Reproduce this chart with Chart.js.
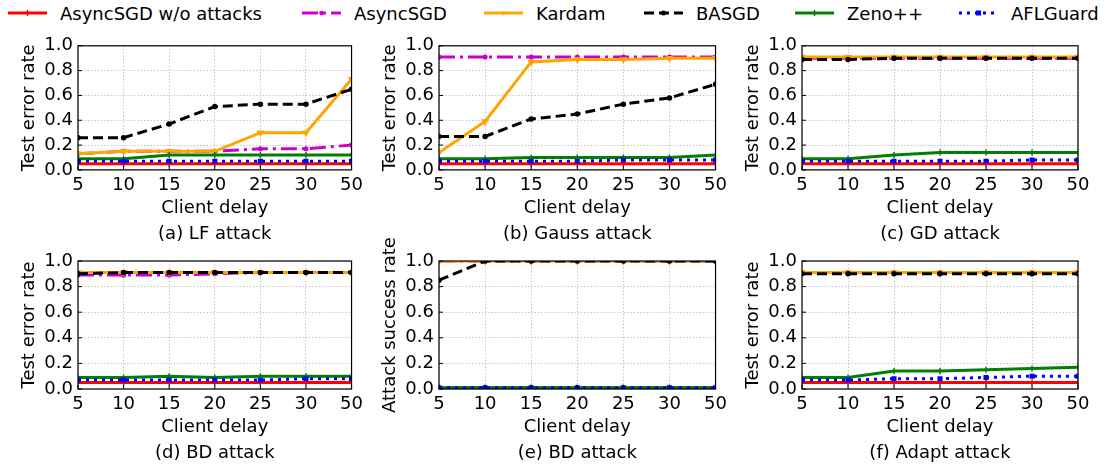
<!DOCTYPE html>
<html>
<head>
<meta charset="utf-8">
<script src="https://cdn.jsdelivr.net/npm/chart.js@4.4.1/dist/chart.umd.min.js"></script>
<style>
  body { margin: 0; background: #fff; width: 1106px; height: 467px; position: relative; overflow: hidden; font-family: 'DejaVu Sans', sans-serif; }
  canvas { position: absolute; }
  .leg { position: absolute; top: 0; height: 26px; display: flex; align-items: center; font-size: 18px; white-space: nowrap; color: #000; }
  .leg span { margin-left: 13px; }
</style>
</head>
<body>
<script>
const delays = ['5', '10', '15', '20', '25', '30', '50'];
const methods = ['AsyncSGD w/o attacks', 'AsyncSGD', 'Kardam', 'BASGD', 'Zeno++', 'AFLGuard'];
const yTicks = [0, 0.2, 0.4, 0.6, 0.8, 1.0];

// one row per method, same order as `methods`
const lfAttack = [
  [0.05, 0.05, 0.05, 0.05, 0.05, 0.05, 0.05],
  [0.13, 0.15, 0.15, 0.15, 0.17, 0.17, 0.20],
  [0.13, 0.15, 0.15, 0.15, 0.30, 0.30, 0.73],
  [0.26, 0.26, 0.37, 0.51, 0.53, 0.53, 0.65],
  [0.09, 0.09, 0.12, 0.12, 0.12, 0.12, 0.12],
  [0.07, 0.07, 0.07, 0.07, 0.07, 0.07, 0.07]
];
const gaussAttack = [
  [0.05, 0.05, 0.05, 0.05, 0.05, 0.05, 0.05],
  [0.91, 0.91, 0.91, 0.91, 0.91, 0.91, 0.91],
  [0.14, 0.39, 0.87, 0.89, 0.89, 0.90, 0.90],
  [0.27, 0.27, 0.41, 0.45, 0.53, 0.58, 0.69],
  [0.09, 0.09, 0.10, 0.10, 0.10, 0.10, 0.12],
  [0.07, 0.07, 0.07, 0.07, 0.08, 0.08, 0.08]
];
const gdAttack = [
  [0.05, 0.05, 0.05, 0.05, 0.05, 0.05, 0.05],
  [0.90, 0.90, 0.90, 0.90, 0.90, 0.90, 0.90],
  [0.91, 0.91, 0.91, 0.91, 0.91, 0.91, 0.91],
  [0.89, 0.89, 0.90, 0.90, 0.90, 0.90, 0.90],
  [0.09, 0.09, 0.12, 0.14, 0.14, 0.14, 0.14],
  [0.07, 0.07, 0.07, 0.07, 0.07, 0.08, 0.08]
];
const bdError = [
  [0.05, 0.05, 0.05, 0.05, 0.05, 0.05, 0.05],
  [0.89, 0.89, 0.89, 0.90, 0.91, 0.91, 0.91],
  [0.91, 0.91, 0.91, 0.91, 0.91, 0.91, 0.91],
  [0.90, 0.91, 0.91, 0.91, 0.91, 0.91, 0.91],
  [0.09, 0.09, 0.10, 0.09, 0.10, 0.10, 0.10],
  [0.07, 0.07, 0.07, 0.07, 0.07, 0.08, 0.08]
];
const bdSuccess = [
  [0.01, 0.01, 0.01, 0.01, 0.01, 0.01, 0.01],
  [1.00, 1.00, 1.00, 1.00, 1.00, 1.00, 1.00],
  [1.00, 1.00, 1.00, 1.00, 1.00, 1.00, 1.00],
  [0.85, 1.00, 1.00, 1.00, 1.00, 1.00, 1.00],
  [0.01, 0.01, 0.01, 0.01, 0.01, 0.01, 0.01],
  [0.01, 0.01, 0.01, 0.01, 0.01, 0.01, 0.01]
];
const adaptAttack = [
  [0.05, 0.05, 0.05, 0.05, 0.05, 0.05, 0.05],
  [0.91, 0.91, 0.91, 0.91, 0.91, 0.91, 0.91],
  [0.91, 0.91, 0.91, 0.91, 0.91, 0.91, 0.91],
  [0.90, 0.90, 0.90, 0.90, 0.90, 0.90, 0.90],
  [0.09, 0.09, 0.14, 0.14, 0.15, 0.16, 0.17],
  [0.07, 0.07, 0.08, 0.08, 0.09, 0.10, 0.10]
];

const panels = [
  { rows: lfAttack,    yTitle: 'Test error rate',     title: '(a) LF attack',    col: 0, row: 0 },
  { rows: gaussAttack, yTitle: 'Test error rate',     title: '(b) Gauss attack', col: 1, row: 0 },
  { rows: gdAttack,    yTitle: 'Test error rate',     title: '(c) GD attack',    col: 2, row: 0 },
  { rows: bdError,     yTitle: 'Test error rate',     title: '(d) BD attack',    col: 0, row: 1 },
  { rows: bdSuccess,   yTitle: 'Attack success rate', title: '(e) BD attack',    col: 1, row: 1 },
  { rows: adaptAttack, yTitle: 'Test error rate',     title: '(f) Adapt attack', col: 2, row: 1 }
];

const styles = [
  { color: '#ff0000', dash: [],           point: 'cross',    r: 3,   rot: 0 },
  { color: '#cc00cc', dash: [16, 5, 3, 5], point: 'circle',  r: 1.8, rot: 0 },
  { color: '#ffa500', dash: [],           point: 'triangle', r: 3,   rot: 180 },
  { color: '#000000', dash: [10, 5],      point: 'circle',   r: 2,   rot: 0 },
  { color: '#008000', dash: [],           point: 'cross',    r: 3,   rot: 0 },
  { color: '#0000ff', dash: [3, 5],       point: 'rect',     r: 2.5, rot: 0 }
];

// layout (page pixels)
const cols = [
  { cx: 0,   w: 368, pl: 78,  pr: 354 },
  { cx: 370, w: 362, pl: 439, pr: 717 },
  { cx: 736, w: 370, pl: 802, pr: 1078 }
];
const rowsGeom = [
  { cy: 30,  h: 215, pt: 44,  pb: 170 },
  { cy: 228, h: 239, pt: 261, pb: 389 }
];
const legendX = [8, 302, 484, 644, 795, 959];
const Y_W = 60, X_H = 50, TITLE_PAD = 3.5, FS = 18;
const TITLE_H = FS * 1.2 + TITLE_PAD;

Chart.defaults.font.family = "'DejaVu Sans', sans-serif";
Chart.defaults.font.size = FS;
Chart.defaults.color = '#000';

// legend
methods.forEach((m, i) => {
  const s = styles[i];
  const div = document.createElement('div');
  div.className = 'leg';
  div.style.left = legendX[i] + 'px';
  let mark = '';
  if (s.point === 'cross') mark = `<path d="M19.5 10v6M16.5 13h6" stroke="${s.color}" stroke-width="1.5"/>`;
  else if (s.point === 'rect') mark = `<rect x="17" y="10.5" width="5" height="5" fill="${s.color}"/>`;
  else if (s.point === 'triangle') mark = `<path d="M17 11.5h5l-2.5 4z" fill="${s.color}"/>`;
  else mark = `<circle cx="19.5" cy="13" r="${s.r + 0.5}" fill="${s.color}"/>`;
  div.innerHTML = `<svg width="39" height="26"><line x1="0" y1="13" x2="39" y2="13" stroke="${s.color}" stroke-width="3" stroke-dasharray="${s.dash.join(' ') || 'none'}"/>${mark}</svg><span>${m}</span>`;
  document.body.appendChild(div);
});

const framePlugin = {
  id: 'frame',
  afterDatasetsDraw(chart) {
    const { ctx, chartArea: a, scales: { x, y } } = chart;
    ctx.save();
    ctx.strokeStyle = '#000';
    ctx.lineWidth = 1;
    ctx.beginPath();
    x.ticks.forEach((t, i) => {
      const px = x.getPixelForTick(i);
      ctx.moveTo(px, a.bottom); ctx.lineTo(px, a.bottom - 4);
    });
    y.ticks.forEach((t, i) => {
      const py = y.getPixelForTick(i);
      ctx.moveTo(a.left, py); ctx.lineTo(a.left + 4, py);
    });
    ctx.stroke();
    ctx.lineWidth = 1.2;
    ctx.strokeRect(a.left, a.top, a.width, a.height);
    ctx.restore();
  }
};

panels.forEach(p => {
  const c = cols[p.col], r = rowsGeom[p.row];
  const canvas = document.createElement('canvas');
  canvas.width = c.w;
  canvas.height = r.h;
  canvas.style.left = c.cx + 'px';
  canvas.style.top = r.cy + 'px';
  document.body.appendChild(canvas);

  new Chart(canvas, {
    type: 'line',
    data: {
      labels: delays,
      datasets: p.rows.map((vals, i) => ({
        label: methods[i],
        data: vals,
        borderColor: styles[i].color,
        backgroundColor: styles[i].color,
        borderWidth: 3,
        borderDash: styles[i].dash,
        tension: 0,
        fill: false,
        pointStyle: styles[i].point,
        pointRadius: styles[i].r,
        pointRotation: styles[i].rot,
        pointBorderWidth: 1.5,
        pointBackgroundColor: styles[i].color,
        pointBorderColor: styles[i].color,
        clip: 0,
        order: methods.length - i
      }))
    },
    options: {
      responsive: false,
      animation: false,
      layout: {
        padding: {
          left: (c.pl - c.cx) - Y_W,
          right: c.w - (c.pr - c.cx),
          top: r.pt - r.cy,
          bottom: Math.max(0, r.h - (r.pb - r.cy) - X_H - TITLE_H)
        }
      },
      plugins: {
        legend: { display: false },
        tooltip: { enabled: false },
        title: {
          display: true,
          text: p.title,
          position: 'bottom',
          fullSize: false,
          color: '#000',
          font: { size: FS, weight: 'normal' },
          padding: { top: TITLE_PAD, bottom: 0 }
        }
      },
      scales: {
        x: {
          type: 'category',
          offset: false,
          grid: { color: '#b0b0b0', lineWidth: 0.8, drawTicks: false, borderDash: [1.3, 2] },
          border: { display: false, dash: [1.3, 2] },
          ticks: { padding: 5, autoSkip: false, maxRotation: 0, color: '#000' },
          title: { display: true, text: 'Client delay', color: '#000', padding: { top: 0, bottom: 1.2 } },
          afterFit(s) { s.height = X_H; }
        },
        y: {
          min: 0,
          max: 1,
          grid: { color: '#b0b0b0', lineWidth: 0.8, drawTicks: false, borderDash: [1.3, 2] },
          border: { display: false, dash: [1.3, 2] },
          ticks: { padding: 5, autoSkip: false, color: '#000', callback: v => Number(v).toFixed(1) },
          afterBuildTicks(s) { s.ticks = yTicks.map(v => ({ value: v })); },
          title: { display: true, text: p.yTitle, color: '#000', padding: { top: 1, bottom: 0 } },
          afterFit(s) { s.width = Y_W; }
        }
      }
    },
    plugins: [framePlugin]
  });
});
</script>
</body>
</html>
